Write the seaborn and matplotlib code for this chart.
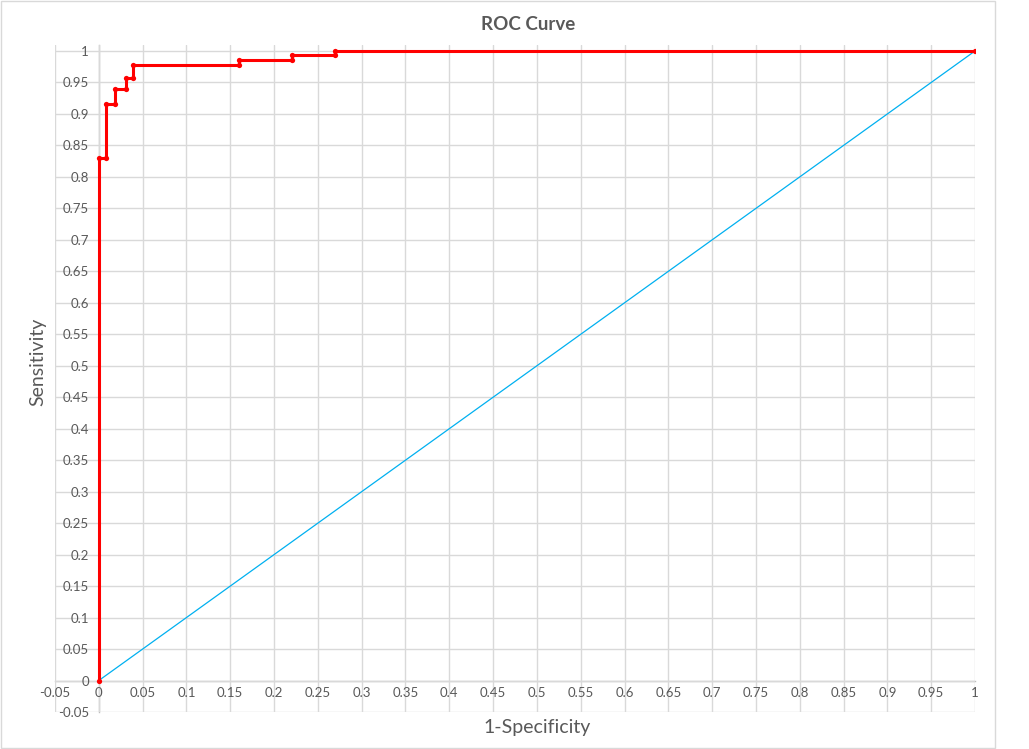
import matplotlib
matplotlib.use("Agg")
import matplotlib.pyplot as plt
from matplotlib.patches import Rectangle
import numpy as np
import seaborn as sns

# ROC points (step curve)
fpr = [0, 0, 0.008, 0.008, 0.018, 0.018, 0.031, 0.031, 0.039, 0.039,
       0.16, 0.16, 0.22, 0.22, 0.27, 0.27, 1]
tpr = [0, 0.83, 0.83, 0.915, 0.915, 0.94, 0.94, 0.957, 0.957, 0.978,
       0.978, 0.986, 0.986, 0.993, 0.993, 1, 1]
diag_x = [0, 1]
diag_y = [0, 1]

sns.set_style("white")
plt.rcParams['font.family'] = ['Lato', 'DejaVu Sans']
text_col = '#595959'

W, H = 1029, 749
fig = plt.figure(figsize=(W / 100, H / 100), dpi=100)
ax = fig.add_axes([55 / W, (H - 712) / H, (975 - 55) / W, (712 - 45) / H])

sns.lineplot(x=diag_x, y=diag_y, ax=ax, color='#00B0F0', linewidth=0.9,
             sort=False, estimator=None)
sns.lineplot(x=fpr, y=tpr, ax=ax, color='#FF0000', linewidth=2.2,
             sort=False, estimator=None, marker='o', markersize=3.8,
             markeredgewidth=0)

ticks = np.round(np.arange(-0.05, 1.0001, 0.05), 2)
labels = ['0' if t == 0 else ('1' if t == 1 else f'{t:g}') for t in ticks]
ax.set_xticks(ticks)
ax.set_xticklabels(labels)
ax.set_yticks(ticks)
ax.set_yticklabels(labels)
ax.set_xlim(-0.05, 1.0)
ax.set_ylim(-0.05, 1.0095)

ax.grid(True, color='#D9D9D9', linewidth=1.0)
ax.set_axisbelow(True)

for s in ['top', 'right']:
    ax.spines[s].set_visible(False)
ax.spines['bottom'].set_position(('data', 0))
ax.spines['left'].set_position(('data', 0))
for s in ['bottom', 'left']:
    ax.spines[s].set_color('#BFBFBF')
    ax.spines[s].set_linewidth(1.0)
    ax.spines[s].set_zorder(0.5)

ax.tick_params(axis='x', length=0, pad=5, labelsize=9.5, labelcolor=text_col)
ax.tick_params(axis='y', length=0, pad=7, labelsize=9.5, labelcolor=text_col)

fig.text(528 / W, 1 - 24 / H, 'ROC Curve', ha='center', va='center',
         fontsize=13.5, fontweight='bold', color=text_col)
fig.text(537 / W, 1 - 728 / H, '1-Specificity', ha='center', va='center',
         fontsize=14, color=text_col)
fig.text(38 / W, 1 - 362 / H, 'Sensitivity', ha='center', va='center',
         fontsize=14, color=text_col, rotation=90)

fig.patches.append(Rectangle((0.5 / W, 1.5 / H), 994 / W, 747 / H,
                             transform=fig.transFigure, fill=False,
                             edgecolor='#D9D9D9', linewidth=1.0))

fig.savefig('out.png', dpi=100)
